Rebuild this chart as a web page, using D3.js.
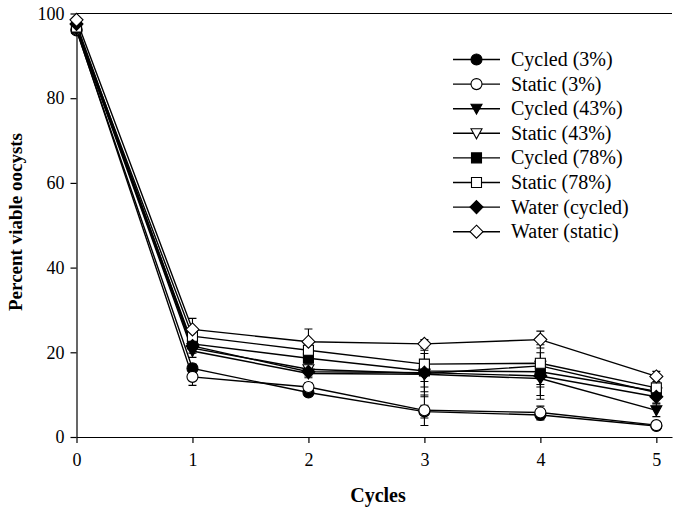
<!DOCTYPE html>
<html>
<head>
<meta charset="utf-8">
<script src="https://cdn.jsdelivr.net/npm/d3@7/dist/d3.min.js"></script>
<style>
  body { margin: 0; background: #fff; }
  text { font-family: "Liberation Serif", "Times New Roman", serif; fill: #000; }
</style>
</head>
<body>
<div id="chart"></div>
<script>
// x positions (cycles)
var cycles = [0, 1, 2, 3, 4, 5];
var yTicks = [0, 20, 40, 60, 80, 100];

var seriesNames = ["Cycled (3%)", "Static (3%)", "Cycled (43%)", "Static (43%)",
  "Cycled (78%)", "Static (78%)", "Water (cycled)", "Water (static)"];
var seriesShapes = ["circle", "circle", "triangle", "triangle", "square", "square", "diamond", "diamond"];
var seriesFilled = [true, false, true, false, true, false, true, false];

// percent viable oocysts
var cycled3 = [96.0, 16.2, 10.5, 6.0, 5.2, 2.6];
var static3 = [96.2, 14.2, 11.8, 6.3, 5.8, 2.8];
var cycled43 = [96.3, 20.3, 15.0, 14.8, 13.8, 6.3];
var static43 = [96.5, 21.0, 16.0, 15.0, 16.8, 10.5];
var cycled78 = [96.5, 22.0, 18.6, 15.6, 15.4, 10.8];
var static78 = [96.8, 23.8, 20.5, 17.2, 17.4, 11.6];
var waterCycled = [97.5, 21.5, 15.4, 15.2, 14.4, 9.5];
var waterStatic = [98.5, 25.4, 22.5, 22.0, 23.0, 14.3];

// error bars (+/-)
var errCycled3 = [0.5, 1.0, 0.8, 1.5, 1.2, 0.4];
var errStatic3 = [0.5, 2.0, 1.0, 3.6, 1.5, 0.4];
var errCycled43 = [0.5, 1.5, 1.0, 3.0, 4.0, 1.5];
var errStatic43 = [0.5, 1.2, 1.0, 5.5, 5.0, 1.0];
var errCycled78 = [0.5, 1.2, 1.2, 2.5, 3.0, 1.2];
var errStatic78 = [0.5, 1.5, 1.5, 1.0, 1.0, 1.0];
var errWaterCycled = [0.5, 1.0, 1.0, 4.5, 5.5, 1.5];
var errWaterStatic = [0.5, 2.6, 3.0, 1.0, 2.0, 1.2];

var seriesValues = [cycled3, static3, cycled43, static43, cycled78, static78, waterCycled, waterStatic];
var seriesErrors = [errCycled3, errStatic3, errCycled43, errStatic43, errCycled78, errStatic78, errWaterCycled, errWaterStatic];

var series = seriesNames.map(function(name, i) {
  return {
    name: name,
    shape: seriesShapes[i],
    filled: seriesFilled[i],
    points: cycles.map(function(c, j) {
      return {x: c, y: seriesValues[i][j], e: seriesErrors[i][j]};
    })
  };
});

var width = 676, height = 508;
var serif = "'Liberation Serif', 'Times New Roman', serif";

var x = d3.scaleLinear().domain([0, 5.135]).range([76.5, 672]);
var y = d3.scaleLinear().domain([0, 100]).range([437, 13.5]);

var svg = d3.select("#chart").append("svg")
  .attr("width", width)
  .attr("height", height);

// marker paths centred on 0,0
function markerPath(shape) {
  if (shape === "circle") {
    var r = 5.5;
    return "M" + (-r) + ",0A" + r + "," + r + " 0 1,0 " + r + ",0A" + r + "," + r + " 0 1,0 " + (-r) + ",0Z";
  }
  if (shape === "triangle") {
    return "M-5.5,-4.5L5.5,-4.5L0,5.5Z";
  }
  if (shape === "square") {
    return "M-5,-5L5,-5L5,5L-5,5Z";
  }
  // diamond
  return "M0,-6.5L6.5,0L0,6.5L-6.5,0Z";
}

// axes
var xAxis = d3.axisBottom(x).tickValues(cycles).tickFormat(d3.format("d"))
  .tickSize(6).tickSizeOuter(0).tickPadding(10);
var yAxis = d3.axisLeft(y).tickValues(yTicks).tickFormat(d3.format("d"))
  .tickSize(6).tickSizeOuter(0).tickPadding(6);

var gx = svg.append("g").attr("transform", "translate(0," + y(0) + ")").call(xAxis);
var gy = svg.append("g").attr("transform", "translate(" + x(0) + ",0)").call(yAxis);

[gx, gy].forEach(function(g) {
  g.attr("font-family", serif).attr("font-size", 18);
  g.selectAll("path.domain").attr("stroke", "#000").attr("stroke-width", 1.2);
  g.selectAll(".tick line").attr("stroke", "#000").attr("stroke-width", 1.2);
  g.selectAll(".tick text").attr("fill", "#000");
});

// top frame line
svg.append("line")
  .attr("x1", x(0)).attr("x2", x(5.135))
  .attr("y1", y(100)).attr("y2", y(100))
  .attr("stroke", "#000").attr("stroke-width", 1.2);

// axis titles
svg.append("text")
  .attr("x", 378).attr("y", 502)
  .attr("text-anchor", "middle")
  .style("font-size", "20px").style("font-weight", "bold")
  .text("Cycles");

svg.append("text")
  .attr("transform", "translate(22,222) rotate(-90)")
  .attr("text-anchor", "middle")
  .style("font-size", "19px").style("font-weight", "bold")
  .text("Percent viable oocysts");

var line = d3.line()
  .x(function(d) { return x(d.x); })
  .y(function(d) { return y(d.y); });

var plot = svg.append("g");

// lines
plot.selectAll("path.series-line").data(series)
  .enter()
  .append("path")
  .attr("class", "series-line")
  .attr("d", function(d) { return line(d.points); })
  .attr("fill", "none")
  .attr("stroke", "#000")
  .attr("stroke-width", 1.4);

// error bars
var bars = plot.selectAll("g.err").data(series)
  .enter()
  .append("g")
  .attr("class", "err");

bars.selectAll("path").data(function(d) { return d.points; })
  .enter()
  .append("path")
  .attr("d", function(p) {
    var cx = x(p.x), y1 = y(p.y - p.e), y2 = y(p.y + p.e);
    return "M" + cx + "," + y1 + "V" + y2 +
      "M" + (cx - 4) + "," + y1 + "H" + (cx + 4) +
      "M" + (cx - 4) + "," + y2 + "H" + (cx + 4);
  })
  .attr("fill", "none")
  .attr("stroke", "#000")
  .attr("stroke-width", 1.1);

// markers
var markers = plot.selectAll("g.markers").data(series)
  .enter()
  .append("g")
  .attr("class", "markers");

markers.selectAll("path").data(function(d) {
    return d.points.map(function(p) { return {p: p, s: d}; });
  })
  .enter()
  .append("path")
  .attr("transform", function(d) { return "translate(" + x(d.p.x) + "," + y(d.p.y) + ")"; })
  .attr("d", function(d) { return markerPath(d.s.shape); })
  .attr("fill", function(d) { return d.s.filled ? "#000" : "#fff"; })
  .attr("stroke", "#000")
  .attr("stroke-width", 1.1);

// legend
var legendRow = 24.6;
var legend = svg.append("g").attr("transform", "translate(453,59.5)");

var rows = legend.selectAll("g").data(series)
  .enter()
  .append("g")
  .attr("transform", function(d, i) { return "translate(0," + i * legendRow + ")"; });

rows.append("line")
  .attr("x1", 0).attr("x2", 47)
  .attr("stroke", "#000").attr("stroke-width", 1.4);

rows.append("path")
  .attr("transform", "translate(23.5,0)")
  .attr("d", function(d) { return markerPath(d.shape); })
  .attr("fill", function(d) { return d.filled ? "#000" : "#fff"; })
  .attr("stroke", "#000")
  .attr("stroke-width", 1.1);

rows.append("text")
  .attr("x", 58)
  .attr("y", 6.5)
  .style("font-size", "20px")
  .text(function(d) { return d.name; });
</script>
</body>
</html>
